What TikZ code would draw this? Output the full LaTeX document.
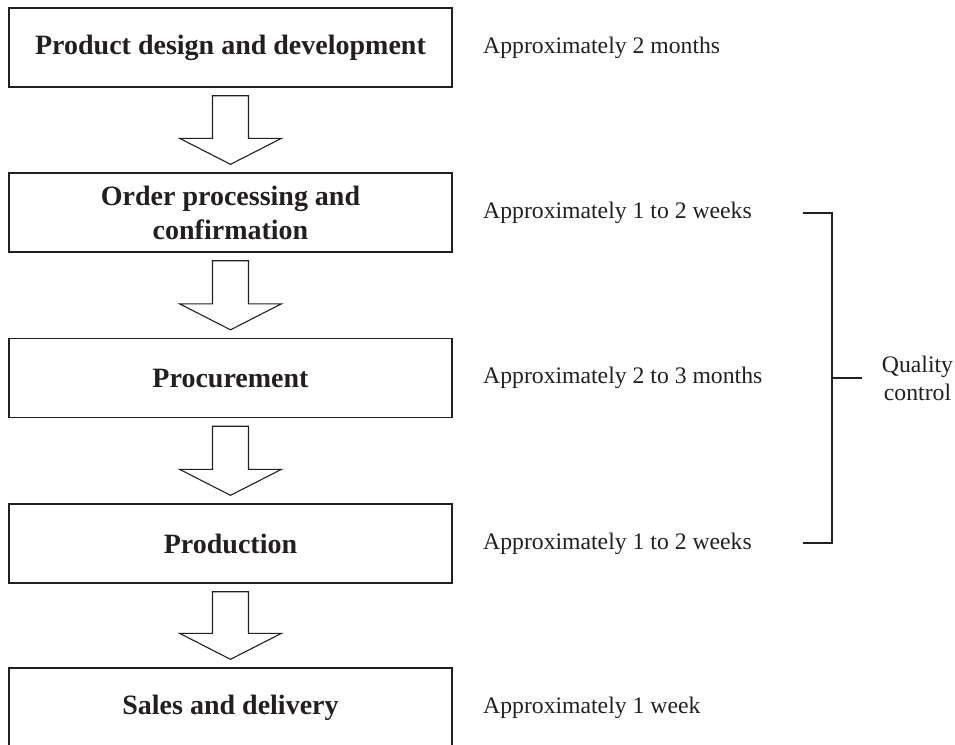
\documentclass[tikz,border=0pt]{standalone}
\usepackage{fontspec}
\setmainfont{Liberation Serif}
\usetikzlibrary{calc}
\definecolor{ink}{HTML}{231F20}
\begin{document}
\begin{tikzpicture}[x=1pt,y=-1pt,
  stagebox/.style={draw=ink,line width=1.4pt,minimum width=443pt,minimum height=79pt,inner sep=0pt,
    align=center,text=ink,font=\fontsize{28}{34}\selectfont\bfseries},
  timelabel/.style={anchor=west,inner sep=0pt,text=ink,font=\fontsize{23.7}{28}\selectfont},
  blockarrow/.style={draw=ink,line width=1.1pt,fill=white,line join=miter},
  bracketline/.style={draw=ink,line width=1.2pt}]
\useasboundingbox (0,0) rectangle (955,744);
% stage boxes
\node[stagebox] (b1) at (230.5,47.5) {Product design and development};
\node[stagebox] (b2) at (230.5,212.5) {Order processing and\\confirmation};
\node[stagebox] (b3) at (230.5,378) {Procurement};
\node[stagebox] (b4) at (230.5,543.5) {Production};
\node[stagebox] (b5) at (230.5,707.5) {Sales and delivery};
% block arrows
\foreach \a/\b in {b1/b2,b2/b3,b3/b4,b4/b5}{
  \draw[blockarrow]
    ($(\a.south)+(-18,8)$) -- ($(\a.south)+(18,8)$)
    -- ($(\b.north)+(18,-34)$) -- ($(\b.north)+(51,-34)$)
    -- ($(\b.north)+(0,-8)$) -- ($(\b.north)+(-51,-34)$)
    -- ($(\b.north)+(-18,-34)$) -- cycle;
}
% time labels
\node[timelabel] (t1) at (483,47.5) {Approximately 2 months};
\node[timelabel] (t2) at (483,212.5) {Approximately 1 to 2 weeks};
\node[timelabel] (t3) at (483,378) {Approximately 2 to 3 months};
\node[timelabel] (t4) at (483,543.5) {Approximately 1 to 2 weeks};
\node[timelabel] (t5) at (483,707.5) {Approximately 1 week};
% bracket
\coordinate (qa) at (803,213);
\coordinate (qb) at (832,213);
\coordinate (qc) at (832,543);
\coordinate (qd) at (803,543);
\coordinate (qm) at (832,378);
\coordinate (qt) at (862,378);
\draw[bracketline] (qa) -- (qb) -- (qc) -- (qd);
\draw[bracketline] (qm) -- (qt);
\node[text=ink,align=center,inner sep=0pt,font=\fontsize{23.7}{28}\selectfont] (qc-label) at (917.5,378) {Quality\\control};
\end{tikzpicture}
\end{document}
